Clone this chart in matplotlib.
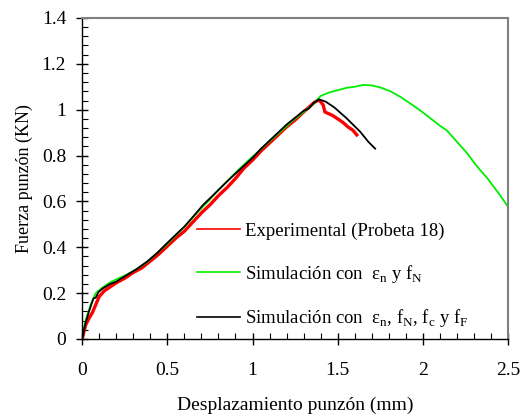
import numpy as np
import matplotlib.pyplot as plt
from matplotlib.ticker import MultipleLocator, FormatStrFormatter

plt.rcParams['font.family'] = 'Liberation Serif'
plt.rcParams['mathtext.fontset'] = 'custom'
plt.rcParams['mathtext.rm'] = 'Liberation Serif'

# experimental curve (Probeta 18)
exp_x = [0, 0.01, 0.02, 0.04, 0.06, 0.08, 0.10, 0.13, 0.16, 0.20, 0.25, 0.30,
         0.35, 0.40, 0.45, 0.50, 0.55, 0.60, 0.65, 0.70, 0.75, 0.80, 0.85,
         0.90, 0.95, 1.00, 1.05, 1.10, 1.15, 1.20, 1.25, 1.30, 1.33, 1.36,
         1.385, 1.40, 1.415, 1.425, 1.44, 1.47, 1.50, 1.53, 1.56, 1.59, 1.612]
exp_y = [0, 0.03, 0.06, 0.09, 0.115, 0.15, 0.185, 0.21, 0.225, 0.245, 0.265,
         0.29, 0.31, 0.34, 0.37, 0.405, 0.44, 0.47, 0.51, 0.55, 0.585, 0.625,
         0.66, 0.70, 0.745, 0.78, 0.82, 0.855, 0.89, 0.925, 0.955, 0.99, 1.01,
         1.03, 1.042, 1.035, 1.02, 0.99, 0.985, 0.975, 0.96, 0.945, 0.925,
         0.91, 0.89]

# simulation with eps_n and f_N
sim1_x = [0, 0.02, 0.05, 0.08, 0.12, 0.16, 0.20, 0.26, 0.32, 0.38, 0.44, 0.50,
          0.56, 0.62, 0.68, 0.74, 0.80, 0.86, 0.92, 1.00, 1.06, 1.12, 1.18,
          1.24, 1.30, 1.35, 1.40, 1.45, 1.50, 1.55, 1.60, 1.65, 1.70, 1.75,
          1.81, 1.87, 1.93, 1.98, 2.04, 2.10, 2.14, 2.20, 2.26, 2.30, 2.336,
          2.38, 2.42, 2.46, 2.50]
sim1_y = [0, 0.08, 0.15, 0.20, 0.225, 0.245, 0.26, 0.28, 0.305, 0.335, 0.375,
          0.415, 0.46, 0.505, 0.555, 0.60, 0.65, 0.695, 0.74, 0.795, 0.835,
          0.875, 0.915, 0.955, 0.99, 1.02, 1.06, 1.075, 1.085, 1.095, 1.10,
          1.108, 1.106, 1.097, 1.08, 1.055, 1.025, 0.999, 0.965, 0.93, 0.91,
          0.86, 0.81, 0.77, 0.737, 0.70, 0.66, 0.62, 0.576]

# simulation with eps_n, f_N, f_c and f_F
sim2_x = [0, 0.02, 0.04, 0.066, 0.08, 0.096, 0.12, 0.164, 0.20, 0.262, 0.32,
          0.38, 0.44, 0.497, 0.55, 0.60, 0.653, 0.71, 0.77, 0.859, 0.92, 1.00,
          1.05, 1.10, 1.15, 1.20, 1.25, 1.30, 1.33, 1.36, 1.39, 1.43, 1.48,
          1.553, 1.632, 1.68, 1.72]
sim2_y = [0, 0.07, 0.12, 0.177, 0.18, 0.205, 0.22, 0.24, 0.25, 0.279, 0.305,
          0.337, 0.375, 0.417, 0.455, 0.49, 0.535, 0.585, 0.628, 0.693, 0.735,
          0.79, 0.83, 0.865, 0.90, 0.935, 0.965, 0.995, 1.005, 1.03, 1.045,
          1.035, 1.01, 0.962, 0.904, 0.86, 0.83]

labels = ['Experimental (Probeta 18)',
          r'Simulación con  ε$_{\rm n}$ y f$_{\rm N}$',
          r'Simulación con  ε$_{\rm n}$, f$_{\rm N}$, f$_{\rm c}$ y f$_{\rm F}$']

fig = plt.figure(figsize=(5.2, 4.18), dpi=100)
ax = fig.add_axes([0.158, 0.189, 0.819, 0.768])

ax.plot(exp_x, exp_y, color='#ff0000', lw=2.4, label=labels[0])
ax.plot(sim1_x, sim1_y, color='#00ee00', lw=1.3, label=labels[1])
ax.plot(sim2_x, sim2_y, color='black', lw=1.3, label=labels[2])

ax.set_xlim(0, 2.5)
ax.set_ylim(0, 1.4)
ax.xaxis.set_major_locator(MultipleLocator(0.5))
ax.xaxis.set_minor_locator(MultipleLocator(0.1))
ax.yaxis.set_major_locator(MultipleLocator(0.2))
ax.yaxis.set_minor_locator(MultipleLocator(0.04))
ax.xaxis.set_major_formatter(FormatStrFormatter('%g'))
ax.yaxis.set_major_formatter(FormatStrFormatter('%g'))
ax.tick_params(which='major', direction='inout', length=9, width=1, labelsize=14, pad=7)
ax.tick_params(which='minor', direction='in', length=4.5, width=0.8)
ax.tick_params(axis='x', pad=12)

for s in ['top', 'right']:
    ax.spines[s].set_color('#808080')
    ax.spines[s].set_linewidth(1.5)
for s in ['left', 'bottom']:
    ax.spines[s].set_linewidth(1.0)

ax.set_xlabel('Desplazamiento punzón (mm)', fontsize=14, labelpad=13)
ax.set_ylabel('Fuerza punzón (KN)', fontsize=13, labelpad=6)

leg = ax.legend(loc='upper left', bbox_to_anchor=(0.27, 0.362), frameon=False,
                fontsize=13.5, handlelength=2.3, handletextpad=0.27,
                labelspacing=1.2, borderaxespad=0, borderpad=0)
for ln in leg.get_lines():
    ln.set_linewidth(1.2)

fig.savefig('out.png', dpi=100)
